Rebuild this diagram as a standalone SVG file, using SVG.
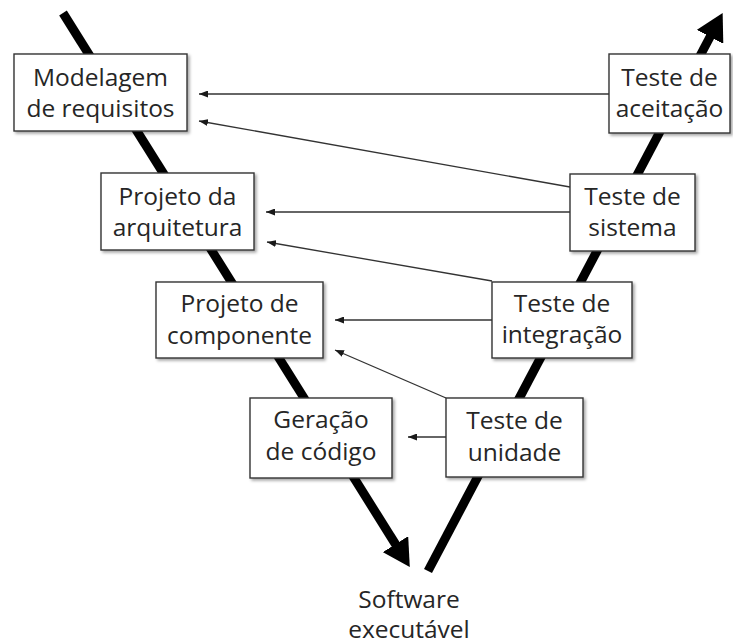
<svg xmlns="http://www.w3.org/2000/svg" width="733" height="644" viewBox="0 0 733 644">
  <style>
    .box rect { fill: #ffffff; stroke: #333333; stroke-width: 1.4; filter: url(#shadow); }
    .box text, .label { font-family: "Open Sans", "Noto Sans", "Liberation Sans", sans-serif; font-size: 24.5px; fill: #262626; text-anchor: middle; }
    .flow { fill: none; stroke: #000000; stroke-width: 9; }
    .link { fill: none; stroke: #333333; stroke-width: 1.3; marker-end: url(#tip); }
  </style>
  <defs>
    <filter id="shadow" x="-10%" y="-10%" width="130%" height="130%">
      <feDropShadow dx="2" dy="2" stdDeviation="1.5" flood-color="#000000" flood-opacity="0.35"/>
    </filter>
    <marker id="bigHead" viewBox="0 0 27 30" refX="1" refY="15" markerWidth="27" markerHeight="30" markerUnits="userSpaceOnUse" orient="auto">
      <path d="M0,0 L27,15 L0,30 Z" fill="#000000"/>
    </marker>
    <marker id="tip" viewBox="0 0 9 7" refX="9" refY="3.5" markerWidth="9" markerHeight="7" markerUnits="userSpaceOnUse" orient="auto">
      <path d="M0,0 L9,3.5 L0,7 Z" fill="#1a1a1a"/>
    </marker>
  </defs>

  <!-- V-shaped process flow -->
  <g id="flow">
    <path class="flow" d="M63,13 L396,545" marker-end="url(#bigHead)"/>
    <path class="flow" d="M428,571 L710.5,36" marker-end="url(#bigHead)"/>
  </g>

  <!-- verification links -->
  <g id="connectors">
    <path class="link" d="M609,94 L199,94"/>
    <path class="link" d="M570,187 L199,121"/>
    <path class="link" d="M570,212 L266,212"/>
    <path class="link" d="M492,281 L267,242"/>
    <path class="link" d="M492,320 L335,320"/>
    <path class="link" d="M446,398 L335,350"/>
    <path class="link" d="M446,437 L408,437"/>
  </g>

  <g id="modelagem" class="box">
    <rect x="14" y="54" width="173" height="77"/>
    <text x="100.5" y="86">Modelagem</text>
    <text x="100.5" y="117">de requisitos</text>
  </g>

  <g id="aceitacao" class="box">
    <rect x="609" y="54" width="121" height="79"/>
    <text x="669.5" y="86">Teste de</text>
    <text x="669.5" y="117">aceitação</text>
  </g>

  <g id="arquitetura" class="box">
    <rect x="101" y="173" width="153" height="77"/>
    <text x="177.5" y="205">Projeto da</text>
    <text x="177.5" y="236">arquitetura</text>
  </g>

  <g id="sistema" class="box">
    <rect x="570" y="174" width="125" height="77"/>
    <text x="632.5" y="205">Teste de</text>
    <text x="632.5" y="236">sistema</text>
  </g>

  <g id="componente" class="box">
    <rect x="156" y="282" width="167" height="76"/>
    <text x="239.5" y="312">Projeto de</text>
    <text x="239.5" y="344">componente</text>
  </g>

  <g id="integracao" class="box">
    <rect x="492" y="282" width="140" height="76"/>
    <text x="562" y="312">Teste de</text>
    <text x="562" y="343">integração</text>
  </g>

  <g id="codigo" class="box">
    <rect x="250" y="398" width="142" height="80"/>
    <text x="321" y="428">Geração</text>
    <text x="321" y="460">de código</text>
  </g>

  <g id="unidade" class="box">
    <rect x="446" y="398" width="137" height="79"/>
    <text x="514.5" y="429">Teste de</text>
    <text x="514.5" y="461">unidade</text>
  </g>

  <g id="software">
    <text class="label" x="409" y="608">Software</text>
    <text class="label" x="409" y="638">executável</text>
  </g>
</svg>
